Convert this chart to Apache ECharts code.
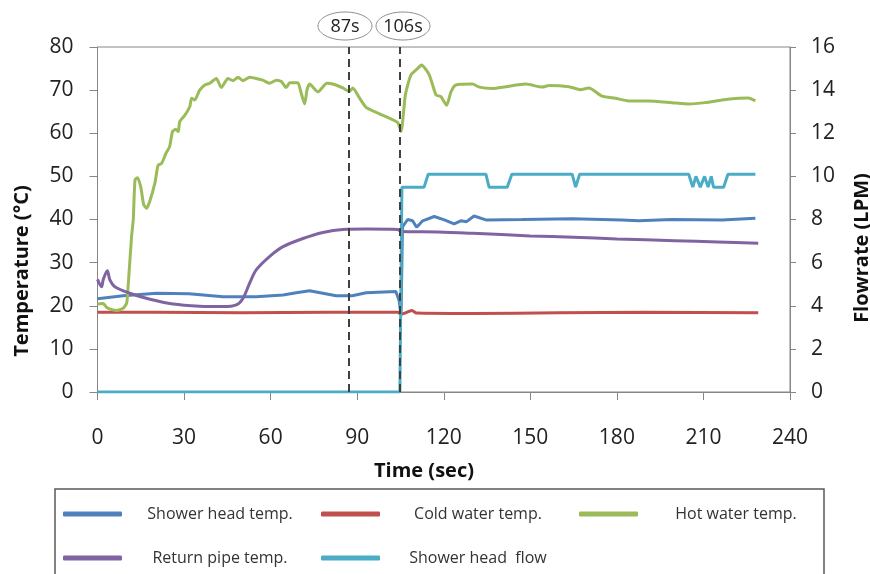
<!DOCTYPE html>
<html><head><meta charset="utf-8">
<script src="https://cdn.jsdelivr.net/npm/echarts@6/dist/echarts.min.js"></script>
<style>html,body{margin:0;padding:0;background:#fff}#c{width:870px;height:574px}</style>
</head><body><div id="c"></div>
<script>
// ---- data ----
const seriesNames = ['Shower head temp.', 'Cold water temp.', 'Hot water temp.', 'Return pipe temp.', 'Shower head  flow'];

const showerTime = [0, 8.9, 20.5, 31.7, 43.5, 55, 64.3, 68.9, 73.5, 78.1, 82.7, 88.3, 93.1, 103.4, 104.5, 105.2, 105.7, 107.5, 109.2, 110.6, 112.7, 116.7, 120.2, 123.6, 125.9, 127.9, 130.5, 134.6, 147.2, 164.5, 181.8, 187.5, 199, 216.4, 228];
const showerTemp = [21.6, 22.3, 22.9, 22.8, 22.1, 22.1, 22.5, 23.0, 23.5, 22.9, 22.3, 22.3, 23.0, 23.3, 21.3, 17.8, 38.3, 40.0, 39.7, 38.2, 39.7, 40.7, 39.9, 39.0, 39.7, 39.5, 40.8, 39.9, 40.0, 40.2, 39.9, 39.7, 40.0, 39.9, 40.3];

const coldTime = [0, 20, 50, 80, 100, 104, 105.2, 106.5, 109, 110.5, 130, 160, 190, 229];
const coldTemp = [18.5, 18.5, 18.4, 18.5, 18.5, 18.5, 18.0, 18.3, 18.9, 18.3, 18.2, 18.4, 18.5, 18.4];

const hotTime = [0, 2, 3.2, 5, 6.6, 8.9, 10.1, 10.6, 11.8, 12.4, 13, 13.9, 15, 16, 17, 18, 19.9, 21, 22.2, 23.7, 25, 26, 27.1, 28, 28.5, 30.3, 32, 32.6, 33.7, 35.4, 37.2, 38.9, 41.2, 42.9, 45.2, 47, 48.7, 50.4, 52.7, 55, 57.3, 59.6, 62, 63.7, 65.4, 66.6, 69.4, 70.5, 71.8, 72.6, 73.5, 76.4, 79.5, 82.1, 85, 87.3, 88.5, 90.5, 93.1, 97.7, 104, 105.2, 106.7, 108.6, 110.9, 112.3, 115, 117.3, 119, 121, 122.5, 124.2, 130, 132.3, 136.9, 141.5, 148.4, 154.2, 156.5, 163.4, 167.4, 170.3, 174.9, 179.5, 184.1, 191, 199.1, 204.9, 210.7, 216.4, 222.2, 225.6, 228];
const hotTemp = [20.4, 20.5, 19.6, 19.1, 18.9, 19.4, 20.6, 24.4, 36, 40, 49.2, 49.7, 47.5, 43.5, 42.6, 44, 48.5, 52.6, 53, 55.3, 56.9, 60.4, 60.9, 60.4, 62.7, 64.2, 66.2, 68.1, 67.7, 70, 71.2, 71.6, 72.7, 70.6, 72.7, 72.2, 73, 72.2, 73, 72.7, 72.3, 71.6, 72.3, 72, 70.6, 71.7, 71.7, 69.5, 66.8, 70, 71.4, 69.6, 71.6, 71.3, 70.5, 69.7, 70.5, 68.5, 66, 64.5, 62.5, 60.4, 68.9, 73.5, 75, 75.8, 73.5, 68.9, 68.5, 66.5, 69.6, 71.2, 71.4, 70.7, 70.4, 70.8, 71.4, 70.7, 71.1, 70.8, 70.1, 70.5, 68.6, 68.1, 67.5, 67.5, 67.1, 66.8, 67.1, 67.7, 68.1, 68.2, 67.5];

const returnTime = [0, 1.4, 2, 3.4, 4.3, 6, 11.2, 18.2, 26.2, 35.4, 43.5, 48.1, 50.4, 52.7, 55, 59.6, 64.3, 71.2, 78.1, 85, 93, 104, 105.2, 118, 130, 150, 165, 180, 200, 215, 229];
const returnTemp = [26.1, 24.4, 26.1, 28.1, 26.0, 24.4, 22.9, 21.5, 20.4, 19.9, 19.8, 20.2, 21.7, 25.2, 28.3, 31.4, 33.7, 35.6, 37.0, 37.7, 37.8, 37.7, 37.2, 37.1, 36.8, 36.2, 35.9, 35.5, 35.1, 34.8, 34.5];

const flowTime = [0, 104.8, 105.5, 113.2, 114.6, 134.6, 135.7, 142, 143.6, 164.5, 165.7, 167.1, 204.9, 206.3, 207.4, 208.9, 210.4, 211.6, 212.7, 213.5, 217, 218.5, 228];
const flowRate = [0, 0, 9.5, 9.5, 10.1, 10.1, 9.5, 9.5, 10.1, 10.1, 9.5, 10.1, 10.1, 9.5, 10.0, 9.5, 10.0, 9.5, 10.0, 9.5, 9.5, 10.1, 10.1];

const markerTimes = [87, 104.7];
const markerLabels = ['87s', '106s'];

const xTickLabels = ['0', '30', '60', '90', '120', '150', '180', '210', '240'];
const tempTickLabels = ['0', '10', '20', '30', '40', '50', '60', '70', '80'];
const flowTickLabels = ['0', '2', '4', '6', '8', '10', '12', '14', '16'];

// ---- chart ----
const colors = ['#4F81BD', '#C0504D', '#9BBB59', '#8064A2', '#4BACC6'];
const zip = (t, v) => t.map((x, i) => [x, v[i]]);
const FONT = 'Open Sans';
const labelColor = '#222';

const chart = echarts.init(document.getElementById('c'), null, { renderer: 'canvas' });

function mkLine(i, t, v, yIdx, smooth, extra) {
  return Object.assign({
    name: seriesNames[i], type: 'line', yAxisIndex: yIdx,
    data: zip(t, v), showSymbol: false, symbol: 'none', smooth: smooth,
    color: colors[i], lineStyle: { color: colors[i], width: 3 },
    animation: false, silent: true
  }, extra || {});
}

const option = {
  animation: false,
  grid: { left: 97.5, right: 80, top: 47, bottom: 182, show: true, borderColor: '#868686', borderWidth: 1, containLabel: false, outerBoundsMode: 'none' },
  xAxis: {
    type: 'value', min: 0, max: 240, interval: 30,
    axisLine: { show: true, lineStyle: { color: '#868686', width: 1 } },
    axisTick: { show: true, inside: false, length: 8, lineStyle: { color: '#868686' } },
    splitLine: { show: false },
    axisLabel: { margin: 36, fontFamily: FONT, fontSize: 21, color: labelColor,
      formatter: (v) => xTickLabels[Math.round(v / 30)] }
  },
  yAxis: [
    { type: 'value', min: 0, max: 80, interval: 10, position: 'left',
      axisLine: { show: true, lineStyle: { color: '#868686', width: 1 } },
      axisTick: { show: true, length: 8, lineStyle: { color: '#868686' } },
      splitLine: { show: false },
      axisLabel: { margin: 24, fontFamily: FONT, fontSize: 21, color: labelColor,
        formatter: (v) => tempTickLabels[Math.round(v / 10)] } },
    { type: 'value', min: 0, max: 16, interval: 2, position: 'right',
      axisLine: { show: true, lineStyle: { color: '#868686', width: 1 } },
      axisTick: { show: true, length: 6, lineStyle: { color: '#868686' } },
      splitLine: { show: false },
      axisLabel: { margin: 21, fontFamily: FONT, fontSize: 21, color: labelColor,
        formatter: (v) => flowTickLabels[Math.round(v / 2)] } }
  ],
  legend: {
    left: 63, top: 496, width: 780, orient: 'horizontal', padding: 0,
    itemWidth: 59, itemHeight: 5, itemGap: 8, icon: 'roundRect',
    selectedMode: false,
    data: seriesNames,
    formatter: '{a|{name}}',
    textStyle: { rich: { a: { width: 186, height: 36, lineHeight: 36, align: 'center',
      fontFamily: FONT, fontSize: 16, color: '#333' } } }
  },
  graphic: [
    { type: 'rect', z: -10, shape: { x: 55, y: 489, width: 769, height: 100 },
      style: { fill: '#fff', stroke: '#595959', lineWidth: 1.5 } },
    { type: 'text', x: 22.5, y: 271, rotation: Math.PI / 2,
      style: { text: 'Temperature (°C)', fontFamily: FONT, fontWeight: 'bold', fontSize: 20, fill: '#111', align: 'center', verticalAlign: 'middle' } },
    { type: 'text', x: 862, y: 248, rotation: Math.PI / 2,
      style: { text: 'Flowrate (LPM)', fontFamily: FONT, fontWeight: 'bold', fontSize: 20, fill: '#111', align: 'center', verticalAlign: 'middle' } },
    { type: 'text', x: 424, y: 471,
      style: { text: 'Time (sec)', fontFamily: FONT, fontWeight: 'bold', fontSize: 20, fill: '#111', align: 'center', verticalAlign: 'middle' } },
    { type: 'ellipse', shape: { cx: 345, cy: 26, rx: 27, ry: 14 }, style: { fill: '#fff', stroke: '#8c8c8c', lineWidth: 1 } },
    { type: 'text', x: 345, y: 27, style: { text: markerLabels[0], fontFamily: FONT, fontSize: 18, fill: '#222', align: 'center', verticalAlign: 'middle' } },
    { type: 'ellipse', shape: { cx: 403, cy: 26, rx: 27, ry: 14 }, style: { fill: '#fff', stroke: '#8c8c8c', lineWidth: 1 } },
    { type: 'text', x: 403, y: 27, style: { text: markerLabels[1], fontFamily: FONT, fontSize: 18, fill: '#222', align: 'center', verticalAlign: 'middle' } }
  ],
  series: [
    mkLine(0, showerTime, showerTemp, 0, false, {
      markLine: { silent: true, symbol: ['none', 'none'], animation: false,
        label: { show: false },
        lineStyle: { color: '#404040', type: [8, 5], width: 2 },
        data: markerTimes.map(t => ({ xAxis: t })) }
    }),
    mkLine(1, coldTime, coldTemp, 0, 0.2),
    mkLine(2, hotTime, hotTemp, 0, 0.2),
    mkLine(3, returnTime, returnTemp, 0, 0.3),
    mkLine(4, flowTime, flowRate, 1, false)
  ]
};
chart.setOption(option);
</script>
</body></html>
